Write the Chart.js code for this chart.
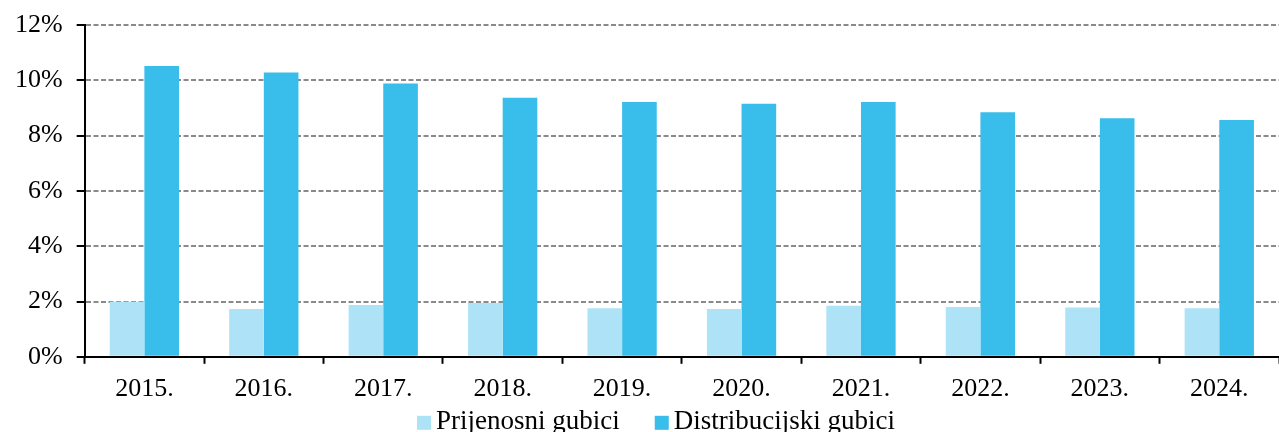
<!DOCTYPE html>
<html>
<head>
<meta charset="utf-8">
<script src="https://cdn.jsdelivr.net/npm/chart.js@4/dist/chart.umd.min.js"></script>
<style>
  html, body { margin: 0; padding: 0; background: #fff; overflow: hidden; }
</style>
</head>
<body>
<canvas id="chart" width="1279" height="432"></canvas>
<script>
const years = ['2015.', '2016.', '2017.', '2018.', '2019.', '2020.', '2021.', '2022.', '2023.', '2024.'];
const prijenosni = [1.99, 1.73, 1.87, 1.95, 1.76, 1.73, 1.85, 1.80, 1.78, 1.76];
const distribucijski = [10.52, 10.28, 9.89, 9.37, 9.22, 9.15, 9.22, 8.85, 8.63, 8.57];
const yTicks = [0, 2, 4, 6, 8, 10, 12];

const serif = '"Liberation Serif", "Times New Roman", serif';
const font = {family: serif, size: 26};

// legend row under the axis labels, partly cut by the bottom edge
const bottomLegend = {
    id: 'bottomLegend',
    afterDraw(chart) {
        const ctx = chart.ctx;
        const area = chart.chartArea;
        const box = 14, gap = 5, spacing = 35;
        ctx.save();
        ctx.font = '27px ' + serif;
        const items = chart.data.datasets.map(ds => ({
            text: ds.label, color: ds.backgroundColor, w: ctx.measureText(ds.label).width
        }));
        const total = items.reduce((s, it) => s + box + gap + it.w, 0) + spacing * (items.length - 1);
        let x = 656 - total / 2;
        const boxTop = area.bottom + 59;
        const baseline = area.bottom + 72;
        ctx.textBaseline = 'alphabetic';
        ctx.textAlign = 'left';
        items.forEach(it => {
            ctx.fillStyle = it.color;
            ctx.fillRect(x, boxTop, box, box);
            ctx.fillStyle = '#000';
            ctx.fillText(it.text, x + box + gap, baseline);
            x += box + gap + it.w + spacing;
        });
        ctx.restore();
    }
};

function chartIt() {
    const ctx = document.getElementById('chart').getContext('2d');
    new Chart(ctx, {
        type: 'bar',
        data: {
            labels: years,
            datasets: [{
                label: 'Prijenosni gubici',
                data: prijenosni,
                backgroundColor: '#aee3f7',
                categoryPercentage: 0.58,
                barPercentage: 1
            }, {
                label: 'Distribucijski gubici',
                data: distribucijski,
                backgroundColor: '#39bdea',
                categoryPercentage: 0.58,
                barPercentage: 1
            }]
        },
        options: {
            responsive: false,
            animation: false,
            layout: {padding: {left: 1, top: 0, right: 0, bottom: 17}},
            plugins: {
                tooltip: {enabled: false},
                legend: {display: false}
            },
            scales: {
                x: {
                    grid: {
                        drawOnChartArea: false,
                        tickColor: '#000',
                        tickLength: 7,
                        tickWidth: 2
                    },
                    border: {color: '#000', width: 2},
                    ticks: {color: '#000', font: font, padding: 10, maxRotation: 0}
                },
                y: {
                    min: 0,
                    max: 12,
                    afterBuildTicks: axis => { axis.ticks = yTicks.map(v => ({value: v})); },
                    grid: {
                        color: '#8a8a8a',
                        lineWidth: 2,
                        tickColor: '#000',
                        tickLength: 8,
                        tickWidth: 2
                    },
                    border: {color: '#000', width: 2, dash: [5, 2.5]},
                    ticks: {
                        color: '#000',
                        font: {family: serif, size: 26, lineHeight: 0.85},
                        padding: 14,
                        callback: v => v + '%'
                    }
                }
            }
        },
        plugins: [bottomLegend]
    });
}

chartIt();
</script>
</body>
</html>
